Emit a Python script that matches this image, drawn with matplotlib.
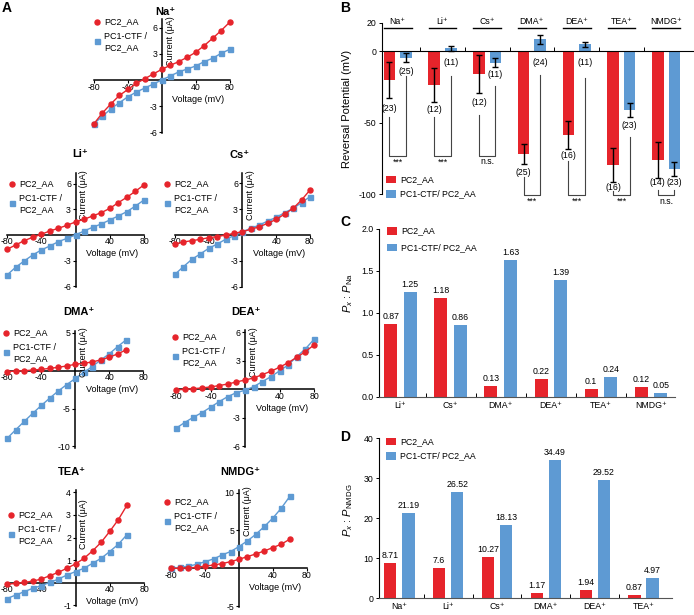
import numpy as np
import matplotlib
matplotlib.use("Agg")
import matplotlib.pyplot as plt
from matplotlib.lines import Line2D
from matplotlib.patches import Rectangle

plt.rcParams['font.family'] = ['Liberation Sans', 'DejaVu Sans']
plt.rcParams['font.size'] = 6.3
plt.rcParams['axes.unicode_minus'] = False
plt.rcParams['mathtext.fontset'] = 'custom'
plt.rcParams['mathtext.it'] = 'Liberation Sans:italic'
plt.rcParams['mathtext.rm'] = 'Liberation Sans'

W, H = 694, 615
red = "#E6242B"
blue = "#5E9AD3"

# ---------------- A: I-V curves (current in uA)
v_80 = [-80, -70, -60, -50, -40, -30, -20, -10, 0, 10, 20, 30, 40, 50, 60, 70, 80]
v_60 = [-80, -70, -60, -50, -40, -30, -20, -10, 0, 10, 20, 30, 40, 50, 60]

na_pc2 = [-5.0, -3.77, -2.73, -1.77, -1.08, -0.38, 0.15, 0.69, 1.22, 1.68, 2.1, 2.6, 3.17, 3.93, 4.77, 5.65, 6.6]
na_ctf = [-5.0, -4.15, -3.3, -2.6, -1.92, -1.38, -0.92, -0.46, 0.0, 0.46, 0.92, 1.26, 1.6, 2.1, 2.48, 3.05, 3.5]
li_pc2 = [-1.67, -1.17, -0.66, -0.27, 0.08, 0.47, 0.78, 1.13, 1.52, 1.83, 2.22, 2.6, 3.1, 3.77, 4.4, 5.1, 5.84]
li_ctf = [-4.67, -3.77, -3.03, -2.33, -1.75, -1.28, -0.78, -0.39, 0.0, 0.47, 0.9, 1.28, 1.75, 2.22, 2.72, 3.38, 4.08]
cs_pc2 = [-1.05, -0.81, -0.66, -0.5, -0.31, -0.19, 0.0, 0.19, 0.39, 0.66, 0.97, 1.36, 1.82, 2.44, 3.1, 4.07, 5.23]
cs_ctf = [-4.57, -3.68, -2.83, -2.2, -1.55, -1.05, -0.5, -0.08, 0.39, 0.78, 1.16, 1.63, 2.05, 2.6, 3.1, 3.76, 4.46]
dma_pc2 = [-0.13, -0.04, 0.0, 0.09, 0.18, 0.31, 0.45, 0.63, 0.85, 0.98, 1.16, 1.43, 1.79, 2.23, 2.77]
dma_ctf = [-8.93, -7.8, -6.7, -5.63, -4.6, -3.62, -2.68, -1.83, -1.03, -0.22, 0.54, 1.43, 2.23, 3.2, 4.1]
dea_pc2 = [-0.07, 0.0, 0.07, 0.14, 0.25, 0.39, 0.56, 0.77, 0.98, 1.19, 1.54, 1.9, 2.32, 2.8, 3.37, 3.96, 4.67]
dea_ctf = [-4.1, -3.5, -2.95, -2.46, -1.89, -1.3, -0.77, -0.35, -0.1, 0.28, 0.8, 1.33, 1.93, 2.56, 3.44, 4.25, 5.26]
tea_pc2 = [-0.07, -0.03, 0.01, 0.07, 0.16, 0.31, 0.46, 0.64, 0.83, 1.08, 1.41, 1.79, 2.27, 2.79, 3.42]
tea_ctf = [-0.7, -0.55, -0.4, -0.25, -0.13, 0.01, 0.16, 0.34, 0.49, 0.64, 0.86, 1.08, 1.38, 1.7, 2.12]
nmdg_pc2 = [0.0, 0.0, 0.04, 0.13, 0.27, 0.44, 0.62, 0.88, 1.19, 1.55, 1.9, 2.3, 2.74, 3.19, 3.85]
nmdg_ctf = [0.0, 0.13, 0.27, 0.53, 0.88, 1.24, 1.77, 2.21, 2.88, 3.63, 4.51, 5.53, 6.64, 7.96, 9.51]

# ---------------- B: reversal potentials (mV)
ions_b = ["Na⁺", "Li⁺", "Cs⁺", "DMA⁺", "DEA⁺", "TEA⁺", "NMDG⁺"]
erev_pc2 = [-20.0, -23.5, -15.9, -71.8, -58.5, -79.3, -76.0]
erev_pc2_err = [12.5, 11.8, 13.0, 6.9, 9.7, 11.8, 12.3]
erev_ctf = [-4.4, 2.1, -7.9, 8.4, 4.9, -41.0, -82.3]
erev_ctf_err = [3.3, 1.7, 3.0, 3.0, 1.9, 4.8, 5.0]
n_pc2 = [23, 12, 12, 25, 16, 16, 14]
n_ctf = [25, 11, 11, 24, 11, 23, 23]
sig = ["***", "***", "n.s.", "***", "***", "***", "n.s."]

# ---------------- C / D: permeability ratios
ions_c = ["Li⁺", "Cs⁺", "DMA⁺", "DEA⁺", "TEA⁺", "NMDG⁺"]
pna_pc2 = [0.87, 1.18, 0.13, 0.22, 0.1, 0.12]
pna_ctf = [1.25, 0.86, 1.63, 1.39, 0.24, 0.05]
ions_d = ["Na⁺", "Li⁺", "Cs⁺", "DMA⁺", "DEA⁺", "TEA⁺"]
pnmdg_pc2 = [8.71, 7.6, 10.27, 1.17, 1.94, 0.87]
pnmdg_ctf = [21.19, 26.52, 18.13, 34.49, 29.52, 4.97]

fig = plt.figure(figsize=(W / 100, H / 100), dpi=100)


def fx(x):
    return x / W


def fy(y):
    return 1 - y / H


def iv_panel(title, v, pc2, ctf, box, yticks, title_xy, leg_xy, cur_off=0):
    x_l, x_r, y0, ppu, ylo, yhi = box
    top = y0 - yhi * ppu
    bot = y0 - ylo * ppu
    ax = fig.add_axes([fx(x_l), fy(bot), (x_r - x_l) / W, (bot - top) / H])
    ax.set_xlim(-80, 80)
    ax.set_ylim(ylo, yhi)
    for s in ["top", "right"]:
        ax.spines[s].set_visible(False)
    for s in ["left", "bottom"]:
        ax.spines[s].set_position(("data", 0))
        ax.spines[s].set_linewidth(1.1)
    ax.plot(v, pc2, "-o", color=red, ms=3.6, lw=1, clip_on=False, zorder=4)
    ax.plot(v, ctf, "-s", color=blue, ms=3.6, lw=1, clip_on=False, zorder=3)
    ax.set_xticks([-80, -40, 40, 80])
    ax.set_yticks(yticks)
    ax.tick_params(axis="x", length=1.8, width=0.8, labelsize=6.3, pad=0)
    ax.tick_params(axis="y", length=2.2, width=0.8, labelsize=6.3, pad=1)
    ax.patch.set_alpha(0)
    ax.annotate("Voltage (mV)", xy=(43, 0), xycoords="data", xytext=(0, -19),
                textcoords="offset pixels", ha="center", va="center", fontsize=6.5)
    ax.annotate("Current (μA)", xy=(0, 1), xycoords=("data", "axes fraction"),
                xytext=(4, 3 + cur_off), textcoords="offset pixels", rotation=90,
                ha="left", va="top", fontsize=6.5)
    fig.text(fx(title_xy[0]), fy(title_xy[1]), title, ha="center", va="center",
             fontsize=8, fontweight="bold")
    mx, my = leg_xy
    fig.add_artist(Line2D([fx(mx)], [fy(my)], marker="o", color=red, ms=3.6,
                          transform=fig.transFigure))
    fig.add_artist(Line2D([fx(mx)], [fy(my + 19)], marker="s", color=blue, ms=3.6,
                          transform=fig.transFigure))
    fig.text(fx(mx + 7), fy(my), "PC2_AA", ha="left", va="center", fontsize=6.5)
    fig.text(fx(mx + 7), fy(my + 19 - 9), "PC1-CTF /\nPC2_AA", ha="left", va="top",
             fontsize=6.5, linespacing=1.25)
    return ax


iv_panel("Na⁺", v_80, na_pc2, na_ctf, (94, 229.5, 80, 8.73, -6.1, 7.0), [-6, -3, 3, 6],
         (165, 12), (97, 22))
iv_panel("Li⁺", v_80, li_pc2, li_ctf, (7, 144, 235, 8.58, -6.1, 7.2), [-6, -3, 3, 6],
         (80, 154), (12, 184))
iv_panel("Cs⁺", v_80, cs_pc2, cs_ctf, (175, 310, 235, 8.6, -6.1, 7.2), [-6, -3, 3, 6],
         (240, 155), (167, 184))
iv_panel("DMA⁺", v_60, dma_pc2, dma_ctf, (7.3, 143.3, 370.7, 7.56, -10.2, 5.3), [-10, -5, 5],
         (79, 312), (6, 333))
iv_panel("DEA⁺", v_80, dea_pc2, dea_ctf, (176, 314, 389.3, 9.5, -6.1, 6.2), [-6, -3, 3, 6],
         (246, 312), (175, 337))
iv_panel("TEA⁺", v_60, tea_pc2, tea_ctf, (7, 144, 582.7, 22.6, -1.05, 4.1), [-1, 1, 2, 3, 4],
         (72, 472), (11, 515), cur_off=-12)
iv_panel("NMDG⁺", v_60, nmdg_pc2, nmdg_ctf, (171.3, 306.7, 568.3, 7.56, -5.1, 10.4), [-5, 5, 10],
         (240, 472), (167, 502))


def bar_legend(x, y, gap):
    for i, (c, lab) in enumerate([(red, "PC2_AA"), (blue, "PC1-CTF/ PC2_AA")]):
        yy = y + i * gap
        fig.add_artist(Rectangle((fx(x), fy(yy + 3.8)), 9.5 / W, 7.6 / H, color=c,
                                 transform=fig.transFigure, lw=0))
        fig.text(fx(x + 14), fy(yy), lab, ha="left", va="center", fontsize=6.3)


# ---------------- B
axb = fig.add_axes([fx(382), fy(194.3), (693 - 382) / W, (194.3 - 22.7) / H])
xb = np.arange(len(ions_b))
wb, ob = 0.26, 0.185
axb.set_xlim(-0.35, 6.6)
axb.set_ylim(-100, 20)
axb.bar(xb - ob, erev_pc2, wb, color=red, zorder=2)
axb.bar(xb + ob, erev_ctf, wb, color=blue, zorder=2)
ekw = dict(fmt="none", ecolor="black", elinewidth=1, capsize=2.2, capthick=1, zorder=3)
axb.errorbar(xb - ob, erev_pc2, yerr=erev_pc2_err, **ekw)
axb.errorbar(xb + ob, erev_ctf, yerr=erev_ctf_err, **ekw)
for s in ["top", "right"]:
    axb.spines[s].set_visible(False)
axb.spines["bottom"].set_position(("data", 0))
axb.spines["bottom"].set_linewidth(0.8)
axb.spines["left"].set_linewidth(0.8)
axb.set_xticks([])
axb.set_xticks(xb[:-1] + 0.5, minor=True)
axb.tick_params(axis="x", which="minor", direction="in", length=3, width=0.7)
axb.set_yticks([20, 0, -50, -100])
axb.tick_params(axis="y", length=2.5, width=0.7, labelsize=6.3, pad=1.5)
axb.set_ylabel("Reversal Potential (mV)", fontsize=8)
axb.yaxis.set_label_coords(-0.097, 0.5)
for i, ion in enumerate(ions_b):
    axb.text(i, 17.5, ion, ha="center", va="bottom", fontsize=6.3, clip_on=False)
    axb.plot([i - 0.31, i + 0.31], [16.1, 16.1], color="black", lw=1, clip_on=False)

# n labels and significance brackets (annotation positions, mV)
n_pc2_y = [-40, -41, -36, -84.6, -73, -95, -92]
n_ctf_y = [-13.8, -7.5, -16.3, -8, -8, -52, -92]
br_red_top = [-45.7, -45.7, -44.5, -88, -77, -98, -97]
br_blue_top = [-17.2, -17, -24, -16.5, -19, -60, -97]
br_bot = [-73, -73, -73, -100.5, -100.5, -100.5, -100.5]
for i in range(len(ions_b)):
    axb.text(i - ob, n_pc2_y[i], f"({n_pc2[i]})", ha="center", va="center", fontsize=6.3)
    axb.text(i + ob, n_ctf_y[i], f"({n_ctf[i]})", ha="center", va="center", fontsize=6.3)
    axb.plot([i - ob, i - ob, i + ob, i + ob],
             [br_red_top[i], br_bot[i], br_bot[i], br_blue_top[i]],
             color="#444444", lw=0.8, clip_on=False)
    axb.text(i, br_bot[i] - 4.3, sig[i], ha="center", va="center", fontsize=6.3, clip_on=False)
bar_legend(386, 179.3, 14.7)


def ratio_panel(box, ions, pc2, ctf, lims, yticks, fmt, ylabel, lab_xy):
    x_l, x_r, y_bot, y_top, xlo, xhi, w, o = box
    ax = fig.add_axes([fx(x_l), fy(y_bot), (x_r - x_l) / W, (y_bot - y_top) / H])
    x = np.arange(len(ions))
    ax.bar(x - o, pc2, w, color=red)
    ax.bar(x + o, ctf, w, color=blue)
    for i in range(len(ions)):
        ax.annotate(f"{pc2[i]:g}", (x[i] - o, pc2[i]), xytext=(0, 3), textcoords="offset pixels",
                    ha="center", va="bottom", fontsize=6.3)
        ax.annotate(f"{ctf[i]:g}", (x[i] + o, ctf[i]), xytext=(0, 3), textcoords="offset pixels",
                    ha="center", va="bottom", fontsize=6.3)
    ax.set_xlim(xlo, xhi)
    ax.set_ylim(*lims)
    for s in ["top", "right"]:
        ax.spines[s].set_visible(False)
    ax.spines["bottom"].set_linewidth(0.8)
    ax.spines["left"].set_linewidth(0.8)
    ax.spines["bottom"].set_color("#555555")
    ax.set_xticks(x)
    ax.set_xticklabels(ions)
    ax.set_xticks(x[:-1] + 0.5, minor=True)
    ax.tick_params(axis="x", which="major", length=0, labelsize=6.3, pad=3)
    ax.tick_params(axis="x", which="minor", direction="in", length=3, width=0.7)
    ax.set_yticks(yticks)
    ax.set_yticklabels([fmt.format(t) for t in yticks])
    ax.tick_params(axis="y", length=2.5, width=0.7, labelsize=6.3, pad=1.5)
    ax.set_ylabel(ylabel, fontsize=8)
    ax.yaxis.set_label_coords(*lab_xy)
    return ax


ratio_panel((379, 675, 397, 229, -0.43, 5.48, 0.26, 0.195), ions_c, pna_pc2, pna_ctf,
            (0, 2), [0.0, 0.5, 1.0, 1.5, 2.0], "{:.1f}",
            r"$P_x$ : $P_{\mathrm{Na}}$", (-0.08, 0.62))
bar_legend(387.3, 231, 16.3)

ratio_panel((379, 672, 598, 438, -0.415, 5.58, 0.255, 0.185), ions_d, pnmdg_pc2, pnmdg_ctf,
            (0, 40), [0, 10, 20, 30, 40], "{:d}",
            r"$P_x$ : $P_{\mathrm{NMDG}}$", (-0.082, 0.55))
bar_legend(386, 441.5, 14.2)

for lab, x, y in [("A", 2, 8), ("B", 340, 8), ("C", 340, 222), ("D", 340, 437)]:
    fig.text(fx(x), fy(y), lab, ha="left", va="center", fontsize=10, fontweight="bold")

fig.savefig("out.png", dpi=100)
